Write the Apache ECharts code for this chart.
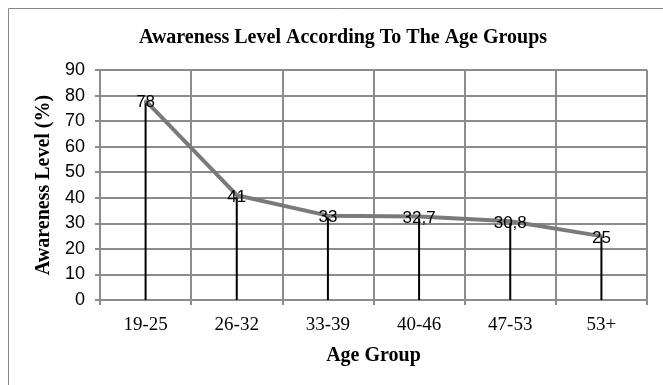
<!DOCTYPE html>
<html>
<head>
<meta charset="utf-8">
<script src="https://cdn.jsdelivr.net/npm/echarts@6/dist/echarts.min.js"></script>
<style>
  html, body { margin: 0; padding: 0; background: #fff; }
  #chart { width: 663px; height: 385px; }
</style>
</head>
<body>
<div id="chart"></div>
<script>
const ageGroups = ['19-25', '26-32', '33-39', '40-46', '47-53', '53+']
const awareness = [78, 41, 33, 32.7, 30.8, 25]
const yMin = 0
const yMax = 90
const yStep = 10

const serif = '"Liberation Serif", "DejaVu Serif", serif'
const sans = '"Liberation Sans", "DejaVu Sans", sans-serif'
const gridColor = '#8c8c8c'
const lineColor = '#7a7a7a'

const chart = echarts.init(document.getElementById('chart'))

chart.setOption({
  animation: false,
  backgroundColor: '#fff',
  graphic: [
    {
      // outer chart border, only top and left edges fall inside the picture
      type: 'rect',
      shape: { x: 8.5, y: 8.5, width: 700, height: 400 },
      style: { fill: 'none', stroke: '#888', lineWidth: 1 },
      silent: true,
    },
  ],
  title: {
    text: 'Awareness Level According To The Age Groups',
    left: 338,
    top: 23,
    textAlign: 'center',
    textStyle: { fontFamily: serif, fontWeight: 'bold', fontSize: 20, color: '#000' },
  },
  grid: { left: 100, right: 16, top: 70, bottom: 85, containLabel: false },
  xAxis: {
    type: 'category',
    data: ageGroups,
    boundaryGap: true,
    name: 'Age Group',
    nameLocation: 'middle',
    nameGap: 46,
    nameTextStyle: { fontFamily: serif, fontWeight: 'bold', fontSize: 20, color: '#000' },
    axisLine: { lineStyle: { color: gridColor, width: 2 } },
    axisTick: { show: true, length: 5, lineStyle: { color: gridColor, width: 2 } },
    axisLabel: { fontFamily: serif, fontSize: 19, color: '#000', margin: 16 },
    splitLine: { show: true, lineStyle: { color: gridColor, width: 2 } },
  },
  yAxis: {
    type: 'value',
    min: yMin,
    max: yMax,
    interval: yStep,
    name: 'Awareness Level (%)',
    nameLocation: 'middle',
    nameGap: 39,
    nameTextStyle: { fontFamily: serif, fontWeight: 'bold', fontSize: 20, color: '#000' },
    axisLine: { show: true, lineStyle: { color: gridColor, width: 2 } },
    axisTick: { show: true, length: 5, lineStyle: { color: gridColor, width: 2 } },
    axisLabel: { fontFamily: sans, fontSize: 18, color: '#000', margin: 15 },
    splitLine: { show: true, lineStyle: { color: gridColor, width: 2 } },
  },
  series: [
    {
      // drop lines
      type: 'bar',
      data: awareness,
      barWidth: 2,
      itemStyle: { color: '#000' },
      silent: true,
      z: 2,
    },
    {
      type: 'line',
      data: awareness,
      symbol: 'circle',
      symbolSize: 2,
      showSymbol: true,
      itemStyle: { color: lineColor },
      lineStyle: { color: lineColor, width: 4 },
      z: 3,
      label: {
        show: true,
        position: 'inside',
        offset: [0, 2],
        fontFamily: sans,
        fontSize: 17,
        color: '#000',
        formatter: (p) => String(p.value).replace('.', ','),
      },
    },
  ],
})
</script>
</body>
</html>
